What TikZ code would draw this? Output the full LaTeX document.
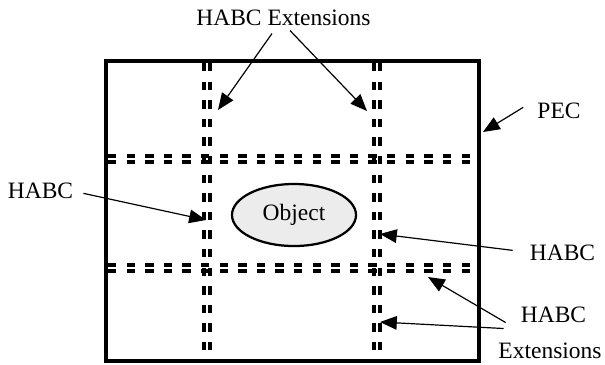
\documentclass[tikz,border=0pt]{standalone}
\usepackage{fontspec}
\setmainfont{Liberation Serif}
\usetikzlibrary{shapes.geometric, arrows.meta, calc}
\tikzset{
  pecwall/.style={
    line width=2.8pt
  },
  habcline/.style={
    line width=2.6pt, dash pattern=on 0.21cm off 0.255cm
  },
  callout/.style={
    -{Triangle[length=0.42cm,width=0.34cm]}, line width=0.85pt
  },
  calloutlabel/.style={
    inner sep=0pt, anchor=base, font=\fontsize{16.7}{20}\selectfont
  },
  objectshape/.style={
    ellipse, draw, line width=1.6pt, fill=gray!15,
    minimum width=3.1cm, minimum height=1.55cm, inner sep=0pt,
    font=\fontsize{16.7}{20}\selectfont
  },
}

\begin{document}
\begin{tikzpicture}[x=0.025cm, y=-0.025cm]
  \useasboundingbox (0,0) rectangle (605,364);

  % ── PEC boundary ───────────────────────────────────────────────
  \draw[pecwall] (106,61) rectangle (479,361);

  % ── HABC double lines ──────────────────────────────────────────
  \foreach \x in {204,210,374,380} {
    \draw[habcline] (\x,63) -- (\x,360);
  }
  \foreach \y in {156,162,265,271} {
    \draw[habcline] (108,\y) -- (476,\y);
  }

  % ── Scatterer ──────────────────────────────────────────────────
  \node[objectshape] (object) at (294,215) {Object};

  % ── Labels ─────────────────────────────────────────────────────
  \node[calloutlabel] (habctop)   at (283.5,25) {HABC Extensions};
  \node[calloutlabel] (pec)       at (559,118)  {PEC};
  \node[calloutlabel] (habcleft)  at (40.5,198) {HABC};
  \node[calloutlabel] (habcright) at (562.5,260) {HABC};
  \node[calloutlabel] (habcbot)   at (553.5,322) {HABC};
  \node[calloutlabel] (extbot)    at (550,358)  {Extensions};

  % Arrow tips
  \coordinate (tipextL)  at (218,110);
  \coordinate (tipextR)  at (367,111);
  \coordinate (tippec)   at (483,132);
  \coordinate (tipleft)  at (206,220);
  \coordinate (tipright) at (380,234);
  \coordinate (tipbotH)  at (428,277);
  \coordinate (tipbotV)  at (380,322);

  % ── Callout arrows ─────────────────────────────────────────────
  \draw[callout] ($(habctop.south)+(-11.5,8)$) -- (tipextL);
  \draw[callout] ($(habctop.south)+(6.5,5)$) -- (tipextR);
  \draw[callout] ($(pec.west)+(-14,-3)$) -- (tippec);
  \draw[callout] ($(habcleft.east)+(10,3)$) -- (tipleft);
  \draw[callout] ($(habcright.west)+(-17,-2)$) -- (tipright);
  \draw[callout] ($(habcbot.south west)+(-15,0)$) -- (tipbotH);
  \draw[callout] ($(habcbot.south west)+(-17,6)$) -- (tipbotV);
\end{tikzpicture}
\end{document}
